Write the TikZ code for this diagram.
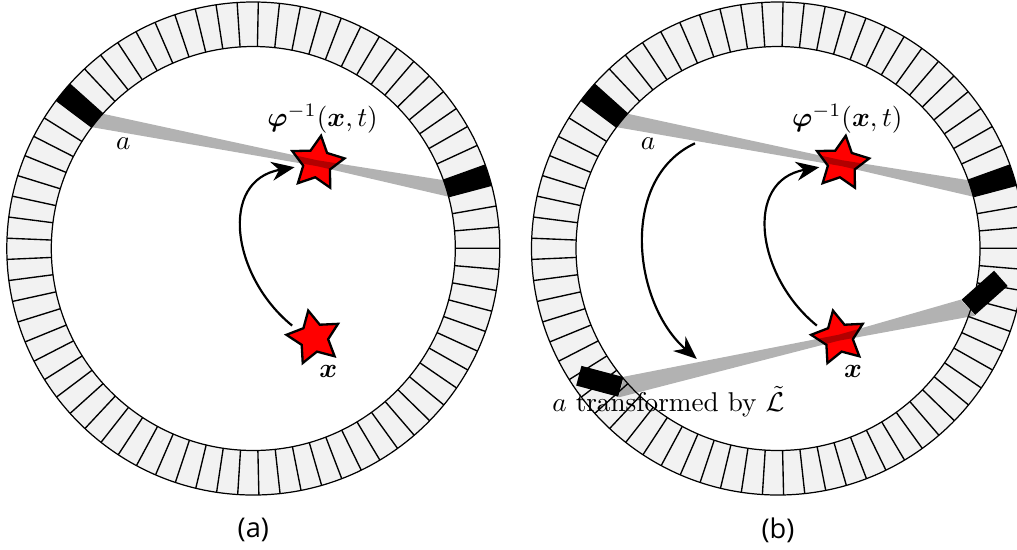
\documentclass[tikz,border=0pt]{standalone}
\usepackage{amsmath,bm}
\usepackage{fontspec}
\newfontfamily\capfont{Open Sans}
\usetikzlibrary{arrows.meta,calc,shapes.geometric}

\begin{document}
\begin{tikzpicture}[x=0.368pt,y=0.368pt,>={Stealth[length=8.5pt,width=7pt]},
  src/.style={star,star points=5,star point ratio=1.95,minimum size=20.4pt,inner sep=0pt,draw=black,line width=0.85pt,fill=red},
  lor/.style={fill=black,fill opacity=0.3},
  flow/.style={->,line width=0.8pt},
  det/.style={rectangle,fill=black,minimum width=16pt,minimum height=7.5pt,inner sep=0pt}]
\useasboundingbox (0,0) rectangle (1017,549);
\clip (0,0) rectangle (1017,549);

% the two scanner rings, same lor and sources
\foreach \cx/\p in {253.3/a,778/b}{
  \begin{scope}[shift={(\cx,300.5)}]
    \fill[black!5,even odd rule] (0,0) circle[radius=246.5] (0,0) circle[radius=202];
    \foreach \k in {0,...,72}{
      \pgfmathsetmacro\ang{177.6+4.93151*\k}
      \draw[line width=0.5pt] (\ang:202) -- (\ang:246.5);
    }
    \fill (138.15:202) arc[start angle=138.15,end angle=143.08,radius=202]
      -- (143.08:246.5) arc[start angle=143.08,end angle=138.15,radius=246.5] -- cycle;
    \fill (14.86:202) arc[start angle=14.86,end angle=19.79,radius=202]
      -- (19.79:246.5) arc[start angle=19.79,end angle=14.86,radius=246.5] -- cycle;
    \draw[line width=0.45pt] (0,0) circle[radius=246.5] (0,0) circle[radius=202];
    \coordinate (hit1\p) at (138.15:202);
    \coordinate (hit2\p) at (143.08:202);
    \coordinate (hit3\p) at (14.86:202);
    \coordinate (hit4\p) at (19.79:202);
    \node[src,rotate=-8] (phi\p) at (63.9,85.3) {};
    \node[src,rotate=12] (x\p) at (60.7,-89.2) {};
    \fill[lor] (hit1\p) -- ($(phi\p)+(0,3)$) -- (hit4\p) -- (hit3\p)
      -- ($(phi\p)+(0,-3)$) -- (hit2\p) -- cycle;
    \draw[flow] ($(x\p)+(151:25)$) to[out=141,in=190,looseness=1.25] ($(phi\p)+(190:23)$);
    \node (philab\p) at (69.2,129.5) {$\bm{\varphi}^{-1}(\bm{x},t)$};
    \node (xlab\p) at (75,-123.2) {$\bm{x}$};
    \node (alab\p) at (-130,105.2) {$a$};
    \node[font=\capfont] (cap\p) at (0,-281.5) {(\p)};
  \end{scope}
}

% transformed lor in (b)
\node[det,rotate=-14.9] (boxL) at (599.8,167.7) {};
\node[det,rotate=41.7] (boxR) at (984.6,256.2) {};
\fill[lor] (boxL.north east) -- ($(xb)+(0,3)$) -- (boxR.north west) -- (boxR.south west)
  -- ($(xb)+(0,-3)$) -- (boxL.south east) -- cycle;
\coordinate (t0) at (695,405.7);
\coordinate (t1) at (696.7,190.1);
\draw[flow] (t0) to[out=205,in=139] (t1);
\node[anchor=base] (tlab) at (668.3,137.3) {$a$ transformed by $\tilde{\mathcal{L}}$};
\end{tikzpicture}
\end{document}
